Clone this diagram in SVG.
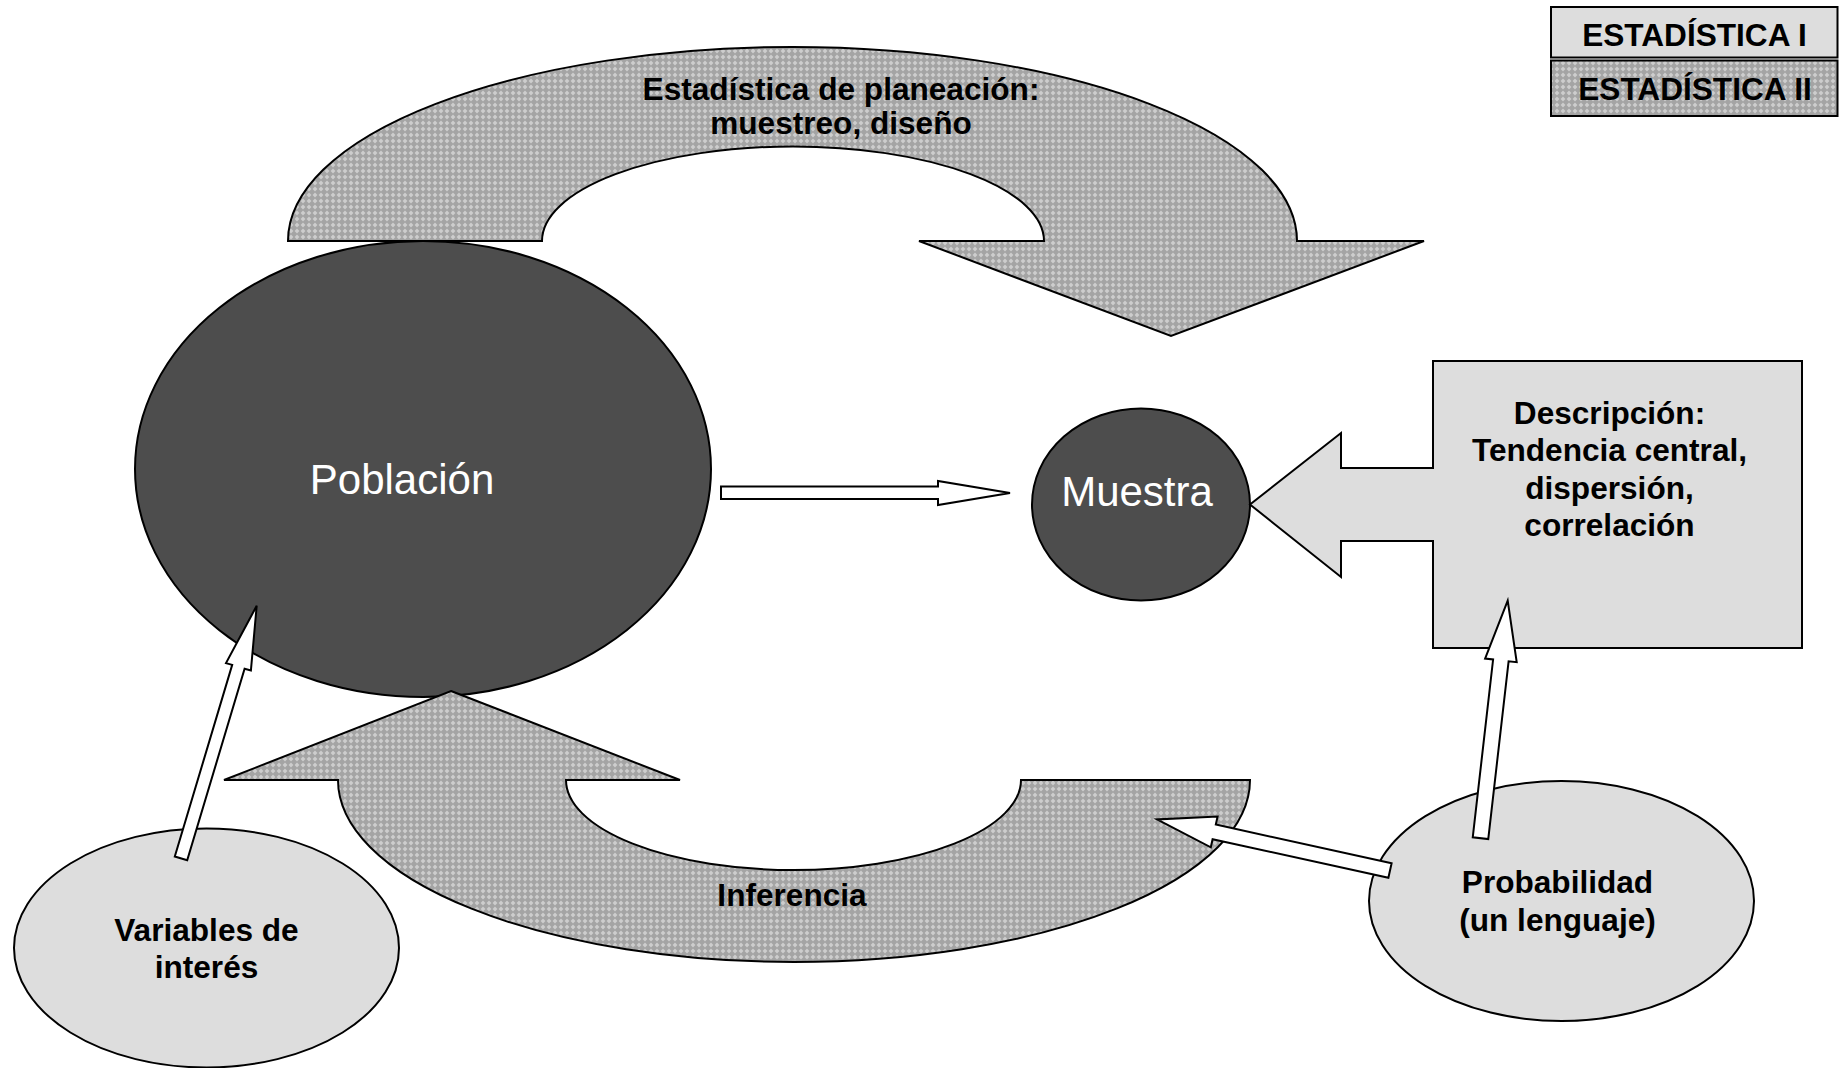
<svg xmlns="http://www.w3.org/2000/svg" width="1839" height="1068" viewBox="0 0 1839 1068">
<defs>
<pattern id="dots" width="6" height="6" patternUnits="userSpaceOnUse">
<rect width="6" height="6" fill="#a4a4a4"/>
<path d="M3 0.6 L5.4 3 L3 5.4 L0.6 3 Z" fill="#cdcdcd"/>
</pattern>
</defs>
<style>
.ln{stroke:#000;stroke-width:2;stroke-linejoin:miter}
.pat{fill:url(#dots)}
.lt{fill:#dddddd}
.dk{fill:#4d4d4d}
.wh{fill:#ffffff}
.lb{font-family:"Liberation Sans",Arial,sans-serif;font-weight:bold;font-size:31.6px;fill:#000;text-anchor:middle}
.big{font-family:"Liberation Sans",Arial,sans-serif;font-size:42px;fill:#ffffff;text-anchor:middle}
</style>
<rect width="1839" height="1068" fill="#ffffff"/>

<g id="planeacion">
<path class="ln pat" d="M288 241 A504.5 194 0 0 1 1297 241 L1424 241 L1171 336 L919 241 L1044 241 A251 94.5 0 0 0 542 241 Z"/>
<text class="lb" x="841" y="99.5">Estadística de planeación:</text>
<text class="lb" x="841" y="134">muestreo, diseño</text>
</g>

<g id="poblacion">
<ellipse class="ln dk" cx="423" cy="469" rx="288" ry="228"/>
<text class="big" x="402" y="494">Población</text>
</g>

<g id="inferencia">
<path class="ln pat" d="M451 691 L680 780 L566 780 A227.5 90 0 0 0 1021 780 L1250 780 A456 182 0 0 1 338 780 L224 780 Z"/>
<text class="lb" x="792" y="906">Inferencia</text>
</g>

<g id="muestra">
<ellipse class="ln dk" cx="1141" cy="504.5" rx="109" ry="96"/>
<text class="big" x="1137" y="506">Muestra</text>
</g>

<g id="descripcion">
<path class="ln lt" d="M1433 361 H1802 V648 H1433 V541 H1341 V577 L1250 504.5 L1341 433 V468 H1433 Z"/>
<text class="lb" x="1609.5" y="423.5">Descripción:</text>
<text class="lb" x="1609.5" y="461">Tendencia central,</text>
<text class="lb" x="1609.5" y="498.5">dispersión,</text>
<text class="lb" x="1609.5" y="536">correlación</text>
</g>

<g id="variables">
<ellipse class="ln lt" cx="206.5" cy="948" rx="192.5" ry="119.5"/>
<text class="lb" x="206.5" y="940.5">Variables de</text>
<text class="lb" x="206.5" y="978">interés</text>
</g>

<g id="probabilidad">
<ellipse class="ln lt" cx="1561.5" cy="901" rx="192.5" ry="120"/>
<text class="lb" x="1557.5" y="893">Probabilidad</text>
<text class="lb" x="1557.5" y="931">(un lenguaje)</text>
</g>

<g id="legend">
<g id="legend-estadistica-1">
<rect class="ln lt" x="1551" y="7" width="286.5" height="50.5"/>
<text class="lb" x="1694.5" y="46">ESTADÍSTICA I</text>
</g>
<g id="legend-estadistica-2">
<rect class="ln pat" x="1551" y="60.5" width="286.5" height="55.5"/>
<text class="lb" x="1695" y="100">ESTADÍSTICA II</text>
</g>
</g>

<g id="connectors">
<path class="ln wh" d="M721 486.5 H938 V481 L1010 493 L938 505 V499 H721 Z"/>
<path class="ln wh" d="M174.8 856.5 L232.2 664.9 L226 663.1 L256.7 605.7 L250.9 670.5 L244.6 668.7 L187.2 860.3 Z"/>
<path class="ln wh" d="M1472.75 837.3 L1493.1 659.5 L1485.1 658.6 L1507.7 600.7 L1516.7 662.2 L1508.6 661.3 L1488.25 839.1 Z"/>
<path class="ln wh" d="M1391.6 863.2 L1215.8 824.6 L1217.6 816.5 L1157 819.4 L1210.8 847.3 L1212.6 839.2 L1388.4 877.8 Z"/>
</g>
</svg>
